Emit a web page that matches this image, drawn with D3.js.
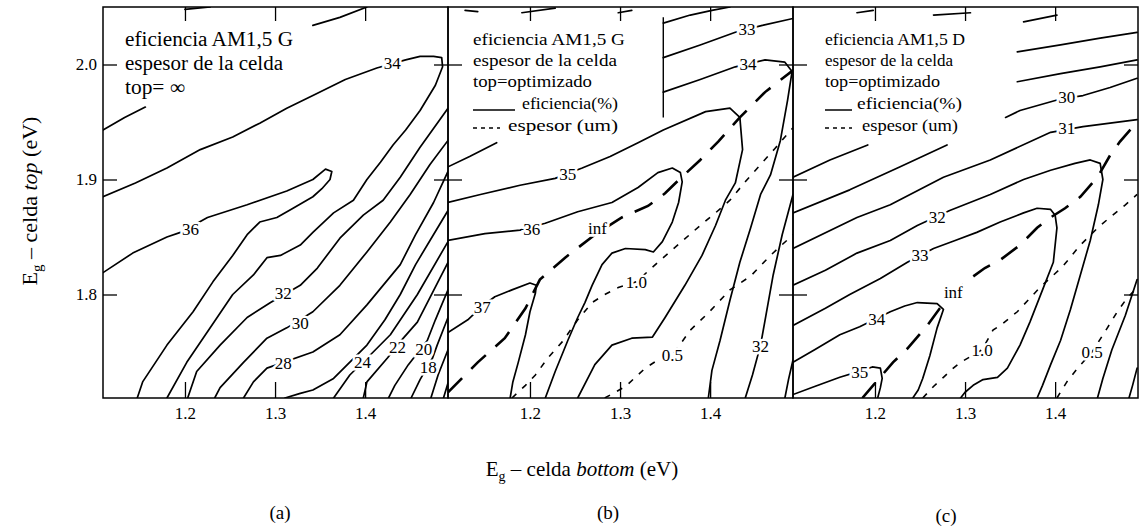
<!DOCTYPE html>
<html>
<head>
<meta charset="utf-8">
<script src="https://cdn.jsdelivr.net/npm/d3@7"></script>
<style>
  body { margin: 0; background: #fff; }
  svg { display: block; }
  text { font-family: "Liberation Serif", "Times New Roman", serif; fill: #000; }
</style>
</head>
<body>
<div id="chart"></div>
<script>
// ---- axes ----
const xTicks = [1.2, 1.3, 1.4];
const yTicks = [1.8, 1.9, 2.0];
const xDomain = [1.109, 1.492];   // Eg bottom (eV)
const yDomain = [1.71, 2.05];     // Eg top (eV)
const panelNames = ["(a)", "(b)", "(c)"];

// ---- (a) efficiency contours, top cell infinitely thick ----
const effA = [
  [[1.109,1.819],[1.142,1.836],[1.180,1.850],[1.195,1.854],[1.225,1.867],[1.269,1.878],[1.313,1.890],[1.342,1.900],[1.356,1.909],[1.363,1.907],[1.361,1.900],[1.352,1.892],[1.342,1.885],[1.320,1.875],[1.302,1.867],[1.283,1.863],[1.269,1.852],[1.253,1.834],[1.231,1.811],[1.209,1.785],[1.180,1.756],[1.153,1.724],[1.147,1.710]],
  [[1.109,1.885],[1.145,1.897],[1.180,1.910],[1.217,1.926],[1.253,1.937],[1.283,1.949],[1.313,1.962],[1.342,1.973],[1.378,1.987],[1.413,1.997],[1.445,2.004],[1.461,2.007],[1.476,2.007],[1.485,2.006],[1.486,1.998],[1.478,1.982],[1.461,1.960],[1.445,1.943],[1.431,1.930],[1.417,1.915],[1.402,1.900],[1.387,1.882],[1.365,1.871],[1.342,1.854],[1.328,1.843],[1.306,1.834],[1.291,1.832],[1.276,1.817],[1.253,1.800],[1.228,1.771],[1.202,1.741],[1.180,1.710]],
  [[1.109,1.943],[1.133,1.954],[1.156,1.963]],
  [[1.342,2.034],[1.372,2.041],[1.402,2.050]],
  [[1.200,2.048],[1.228,2.050]],
  [[1.492,1.962],[1.461,1.928],[1.439,1.902],[1.420,1.882],[1.398,1.869],[1.372,1.849],[1.347,1.823],[1.328,1.808],[1.295,1.793],[1.269,1.780],[1.239,1.756],[1.213,1.733],[1.203,1.710]],
  [[1.492,1.934],[1.472,1.913],[1.450,1.887],[1.428,1.863],[1.402,1.837],[1.372,1.808],[1.342,1.785],[1.313,1.771],[1.291,1.762],[1.265,1.741],[1.239,1.719],[1.233,1.710]],
  [[1.492,1.907],[1.476,1.880],[1.456,1.852],[1.439,1.826],[1.402,1.791],[1.372,1.765],[1.342,1.750],[1.291,1.736],[1.276,1.724],[1.265,1.710]],
  [[1.492,1.873],[1.472,1.847],[1.456,1.826],[1.439,1.800],[1.422,1.778],[1.402,1.756],[1.365,1.727],[1.342,1.717],[1.328,1.714],[1.311,1.710]],
  [[1.492,1.846],[1.458,1.800],[1.428,1.765],[1.409,1.750],[1.383,1.730],[1.365,1.710]],
  [[1.492,1.828],[1.458,1.776],[1.439,1.759],[1.425,1.745],[1.402,1.724],[1.398,1.710]],
  [[1.492,1.804],[1.478,1.778],[1.469,1.760],[1.448,1.739],[1.433,1.721],[1.426,1.710]],
  [[1.492,1.780],[1.480,1.756],[1.475,1.745],[1.461,1.726],[1.451,1.710]],
  [[1.492,1.752],[1.481,1.730],[1.473,1.710]],
  [[1.492,1.723],[1.487,1.710]]
];
const labA = [["36",1.206,1.857],["34",1.430,2.001],["32",1.309,1.801],["30",1.328,1.775],["28",1.309,1.740],["24",1.397,1.741],["22",1.436,1.754],["20",1.465,1.753],["18",1.470,1.737]];

// ---- (b) AM1.5 G, optimised top thickness ----
const effB = [
  [[1.109,1.767],[1.131,1.778],[1.147,1.790],[1.161,1.798],[1.180,1.804],[1.200,1.810],[1.207,1.808],[1.206,1.801],[1.200,1.785],[1.195,1.765],[1.187,1.741],[1.181,1.724],[1.178,1.710]],
  [[1.109,1.847],[1.150,1.853],[1.189,1.856],[1.217,1.862],[1.253,1.872],[1.291,1.880],[1.320,1.893],[1.342,1.906],[1.358,1.910],[1.367,1.906],[1.369,1.898],[1.365,1.880],[1.358,1.863],[1.347,1.846],[1.337,1.837],[1.328,1.839],[1.306,1.840],[1.291,1.836],[1.280,1.826],[1.269,1.808],[1.261,1.793],[1.253,1.780],[1.242,1.760],[1.228,1.733],[1.217,1.710]],
  [[1.109,1.880],[1.145,1.887],[1.189,1.895],[1.228,1.901],[1.258,1.910],[1.289,1.920],[1.320,1.932],[1.348,1.943],[1.395,1.959],[1.422,1.962],[1.433,1.954],[1.436,1.926],[1.428,1.897],[1.417,1.882],[1.406,1.860],[1.391,1.834],[1.372,1.808],[1.350,1.780],[1.336,1.763],[1.313,1.762],[1.291,1.756],[1.272,1.739],[1.253,1.710]],
  [[1.109,1.911],[1.133,1.920],[1.163,1.932]],
  [[1.348,1.976],[1.389,1.987],[1.428,1.998],[1.461,2.004],[1.483,2.002],[1.491,1.994],[1.486,1.969],[1.478,1.934],[1.467,1.904],[1.456,1.887],[1.445,1.858],[1.433,1.828],[1.422,1.795],[1.411,1.760],[1.402,1.734],[1.398,1.710]],
  [[1.348,2.006],[1.389,2.017],[1.428,2.028],[1.458,2.034],[1.492,2.040]],
  [[1.348,2.036],[1.378,2.043],[1.402,2.047],[1.422,2.050]],
  [[1.492,1.887],[1.480,1.852],[1.470,1.817],[1.462,1.782],[1.456,1.756],[1.447,1.730],[1.439,1.710]],
  [[1.492,1.743],[1.487,1.726],[1.483,1.710]],
  [[1.128,2.047],[1.142,2.046]],
  [[1.191,2.045],[1.228,2.049]],
  [[1.298,2.045],[1.313,2.047]]
];
const labB = [["37",1.147,1.789],["36",1.202,1.857],["35",1.242,1.905],["34",1.442,2.000],["33",1.441,2.031],["32",1.456,1.755]];
const infB = [[1.109,1.715],[1.142,1.741],[1.172,1.762],[1.195,1.788],[1.211,1.813],[1.239,1.832],[1.272,1.852],[1.302,1.867],[1.331,1.877],[1.350,1.888],[1.367,1.901],[1.389,1.917],[1.409,1.933],[1.433,1.954],[1.461,1.976],[1.492,1.995]];
const thinB = [
  [[1.180,1.710],[1.195,1.721],[1.206,1.730],[1.220,1.745],[1.236,1.759],[1.253,1.778],[1.269,1.793],[1.283,1.800],[1.298,1.806],[1.318,1.811],[1.342,1.828],[1.367,1.845],[1.389,1.860],[1.406,1.871],[1.422,1.882],[1.439,1.898],[1.456,1.913],[1.472,1.927],[1.492,1.945]],
  [[1.283,1.710],[1.306,1.720],[1.328,1.736],[1.342,1.743],[1.358,1.747],[1.378,1.769],[1.398,1.784],[1.422,1.804],[1.445,1.816],[1.467,1.834],[1.492,1.852]]
];
const thickLabB = [["inf",1.275,1.858],["1.0",1.318,1.811],["0.5",1.358,1.747]];

// ---- (c) AM1.5 D, optimised top thickness ----
const effC = [
  [[1.109,1.902],[1.150,1.917],[1.192,1.930]],
  [[1.109,1.871],[1.172,1.891],[1.228,1.911],[1.280,1.930]],
  [[1.345,1.954],[1.361,1.960],[1.406,1.970],[1.431,1.973],[1.461,1.980],[1.491,1.988]],
  [[1.358,1.985],[1.406,1.992],[1.450,1.998],[1.491,2.004]],
  [[1.358,2.011],[1.406,2.017],[1.450,2.023],[1.491,2.028]],
  [[1.180,2.045],[1.198,2.047]],
  [[1.265,2.043],[1.306,2.045]],
  [[1.365,2.037],[1.402,2.043]],
  [[1.109,1.840],[1.180,1.867],[1.217,1.878],[1.276,1.902],[1.328,1.917],[1.395,1.941],[1.431,1.946],[1.461,1.949],[1.491,1.952]],
  [[1.109,1.808],[1.145,1.821],[1.180,1.836],[1.217,1.847],[1.247,1.860],[1.283,1.873],[1.328,1.887],[1.365,1.900],[1.395,1.908],[1.422,1.914],[1.439,1.917],[1.450,1.914],[1.453,1.900],[1.448,1.878],[1.439,1.847],[1.428,1.817],[1.417,1.787],[1.406,1.760],[1.395,1.739],[1.386,1.721],[1.380,1.710]],
  [[1.109,1.773],[1.145,1.788],[1.172,1.800],[1.206,1.814],[1.236,1.828],[1.265,1.840],[1.289,1.847],[1.313,1.854],[1.339,1.863],[1.365,1.871],[1.380,1.875],[1.395,1.874],[1.400,1.869],[1.402,1.858],[1.398,1.828],[1.387,1.806],[1.372,1.776],[1.361,1.756],[1.347,1.736],[1.336,1.728],[1.320,1.726],[1.309,1.721],[1.300,1.715],[1.295,1.710]],
  [[1.109,1.741],[1.133,1.752],[1.161,1.765],[1.183,1.772],[1.217,1.785],[1.233,1.790],[1.247,1.793],[1.269,1.792],[1.276,1.787],[1.269,1.771],[1.261,1.747],[1.253,1.727],[1.248,1.717],[1.242,1.710]],
  [[1.109,1.713],[1.133,1.720],[1.161,1.728],[1.186,1.734],[1.197,1.737],[1.206,1.736],[1.208,1.727],[1.206,1.719],[1.203,1.710]],
  [[1.491,1.813],[1.478,1.782],[1.463,1.752],[1.453,1.727],[1.447,1.710]],
  [[1.491,1.736],[1.486,1.721],[1.482,1.710]]
];
const labC = [["30",1.413,1.972],["31",1.413,1.945],["32",1.269,1.867],["33",1.250,1.834],["34",1.202,1.779],["35",1.183,1.733]];
const infC = [[1.186,1.710],[1.198,1.721],[1.208,1.730],[1.220,1.741],[1.236,1.753],[1.258,1.773],[1.272,1.788],[1.289,1.802],[1.306,1.814],[1.322,1.823],[1.339,1.830],[1.361,1.843],[1.380,1.858],[1.395,1.867],[1.411,1.875],[1.428,1.885],[1.447,1.902],[1.461,1.921],[1.472,1.933],[1.491,1.950]];
const thinC = [
  [[1.253,1.710],[1.265,1.720],[1.276,1.728],[1.287,1.736],[1.295,1.741],[1.319,1.752],[1.331,1.769],[1.339,1.773],[1.358,1.785],[1.383,1.806],[1.408,1.824],[1.428,1.843],[1.450,1.860],[1.478,1.878],[1.491,1.887]],
  [[1.402,1.710],[1.413,1.724],[1.425,1.736],[1.441,1.750],[1.458,1.771],[1.469,1.785],[1.480,1.797],[1.491,1.806]]
];
const thickLabC = [["inf",1.287,1.802],["1.0",1.319,1.752],["0.5",1.441,1.750]];

// ---- legend texts ----
const legendA = ["eficiencia AM1,5 G", "espesor de la celda", "top= \u221e"];
const legendB = ["eficiencia AM1,5 G", "espesor de la celda", "top=optimizado", "eficiencia(%)", "espesor (um)"];
const legendC = ["eficiencia AM1,5 D", "espesor de la celda", "top=optimizado", "eficiencia(%)", "espesor (um)"];

// ---- layout ----
const W = 1142, H = 532;
const pw = 345, ph = 391, padTop = 7;

const svg = d3.select("#chart").append("svg")
  .attr("width", W).attr("height", H)
  .attr("viewBox", `0 0 ${W} ${H}`);

const x = d3.scaleLinear().domain(xDomain).range([0, pw]);
const y = d3.scaleLinear().domain(yDomain).range([ph, 0]);
const contourLine = d3.line().x(d => x(d[0])).y(d => y(d[1]));

const panels = [
  { left: 103, eff: effA, lab: labA, inf: null, thin: [], tlab: [], nameX: 280, nameY: 519 },
  { left: 448, eff: effB, lab: labB, inf: infB, thin: thinB, tlab: thickLabB, nameX: 608, nameY: 519 },
  { left: 793, eff: effC, lab: labC, inf: infC, thin: thinC, tlab: thickLabC, nameX: 946, nameY: 522 }
];

const styleAxis = g => {
  g.attr("font-family", null).attr("font-size", null);
  g.select(".domain").remove();
  g.selectAll("line").attr("stroke", "#000").attr("stroke-width", 1.3);
  g.selectAll("text").style("font-size", "17px");
};

panels.forEach((p, i) => {
  const g = svg.append("g").attr("transform", `translate(${p.left},${padTop})`);

  g.append("clipPath").attr("id", `clip${i}`)
    .append("rect").attr("width", pw).attr("height", ph);

  const body = g.append("g").attr("clip-path", `url(#clip${i})`);

  // efficiency (solid)
  body.selectAll("path.eff")
    .data(p.eff)
    .join("path")
    .attr("class", "eff")
    .attr("d", contourLine)
    .attr("fill", "none")
    .attr("stroke", "#000")
    .attr("stroke-width", 1.7)
    .attr("stroke-linejoin", "round")
    .attr("stroke-linecap", "round");

  // thickness: infinite (long thick dashes)
  if (p.inf) {
    body.append("path")
      .datum(p.inf)
      .attr("d", contourLine)
      .attr("fill", "none")
      .attr("stroke", "#000")
      .attr("stroke-width", 2.6)
      .attr("stroke-dasharray", "20,13");
  }

  // thickness: 1.0 / 0.5 um (short dashes)
  body.selectAll("path.thin")
    .data(p.thin)
    .join("path")
    .attr("class", "thin")
    .attr("d", contourLine)
    .attr("fill", "none")
    .attr("stroke", "#000")
    .attr("stroke-width", 1.6)
    .attr("stroke-dasharray", "6,8");

  // contour labels, white halo cuts the line
  body.selectAll("text.lab")
    .data(p.lab.concat(p.tlab))
    .join("text")
    .attr("class", "lab")
    .attr("x", d => x(d[1]))
    .attr("y", d => y(d[2]))
    .attr("dy", "0.35em")
    .attr("text-anchor", "middle")
    .style("font-size", "17px")
    .attr("stroke", "#fff")
    .attr("stroke-width", 5)
    .attr("paint-order", "stroke")
    .text(d => d[0]);

  // frame
  g.append("rect")
    .attr("width", pw).attr("height", ph)
    .attr("fill", "none")
    .attr("stroke", "#000")
    .attr("stroke-width", 1.5);

  // ticks
  g.append("g")
    .attr("transform", `translate(0,${ph})`)
    .call(d3.axisBottom(x).tickValues(xTicks).tickSize(-16).tickPadding(9).tickFormat(d3.format(".1f")))
    .call(styleAxis);
  g.append("g")
    .call(d3.axisTop(x).tickValues(xTicks).tickSize(-14).tickFormat(""))
    .call(styleAxis);
  g.append("g")
    .call(d3.axisLeft(y).tickValues(yTicks).tickSize(-14).tickPadding(6)
      .tickFormat(i === 0 ? d3.format(".1f") : ""))
    .call(styleAxis);
  g.append("g")
    .attr("transform", `translate(${pw},0)`)
    .call(d3.axisRight(y).tickValues(yTicks).tickSize(-14).tickFormat(""))
    .call(styleAxis);

  svg.append("text")
    .attr("x", p.nameX).attr("y", p.nameY)
    .attr("text-anchor", "middle")
    .style("font-size", "19px")
    .text(panelNames[i]);
});

// box edge visible in (b)
svg.append("line")
  .attr("x1", 448 + x(1.348)).attr("x2", 448 + x(1.348))
  .attr("y1", padTop + y(2.041)).attr("y2", padTop + y(1.954))
  .attr("stroke", "#000").attr("stroke-width", 1.4);

// ---- legend blocks ----
function legendLine(txt, lx, ly, size, len) {
  svg.append("text")
    .attr("x", lx).attr("y", ly)
    .style("font-size", size + "px")
    .attr("textLength", len)
    .attr("lengthAdjust", "spacingAndGlyphs")
    .text(txt);
}
legendLine(legendA[0], 125, 46, 20, 168);
legendLine(legendA[1], 125, 70, 20, 158);
legendLine(legendA[2], 125, 94, 20, 60);

[[legendB, 473, [152, 144, 119], 522, 96, 508, 110, 515, 500],
 [legendC, 825, [140, 128, 115], 857, 105, 862, 96, 852, 852]].forEach(([lg, lx, lens, t4x, t4w, t5x, t5w, s4, s5]) => {
  legendLine(lg[0], lx, 45, 17, lens[0]);
  legendLine(lg[1], lx, 66, 17, lens[1]);
  legendLine(lg[2], lx, 87, 17, lens[2]);
  svg.append("line").attr("x1", lx).attr("x2", s4).attr("y1", 110).attr("y2", 110)
    .attr("stroke", "#000").attr("stroke-width", 1.5);
  legendLine(lg[3], t4x, 109, 17, t4w);
  svg.append("line").attr("x1", lx).attr("x2", s5).attr("y1", 128).attr("y2", 128)
    .attr("stroke", "#000").attr("stroke-width", 1.4).attr("stroke-dasharray", "4,4");
  legendLine(lg[4], t5x, 131, 17, t5w);
});

// ---- axis titles ----
const xt = svg.append("text")
  .attr("x", 582).attr("y", 476)
  .attr("text-anchor", "middle")
  .style("font-size", "21px");
xt.append("tspan").text("E");
xt.append("tspan").attr("dy", 5).style("font-size", "14px").text("g");
xt.append("tspan").attr("dy", -5).text(" \u2013 celda ");
xt.append("tspan").style("font-style", "italic").text("bottom");
xt.append("tspan").text(" (eV)");

const yt = svg.append("text")
  .attr("transform", "translate(37,201) rotate(-90)")
  .attr("text-anchor", "middle")
  .style("font-size", "22px");
yt.append("tspan").text("E");
yt.append("tspan").attr("dy", 5).style("font-size", "15px").text("g");
yt.append("tspan").attr("dy", -5).text(" \u2013 celda ");
yt.append("tspan").style("font-style", "italic").text("top");
yt.append("tspan").text(" (eV)");
</script>
</body>
</html>
